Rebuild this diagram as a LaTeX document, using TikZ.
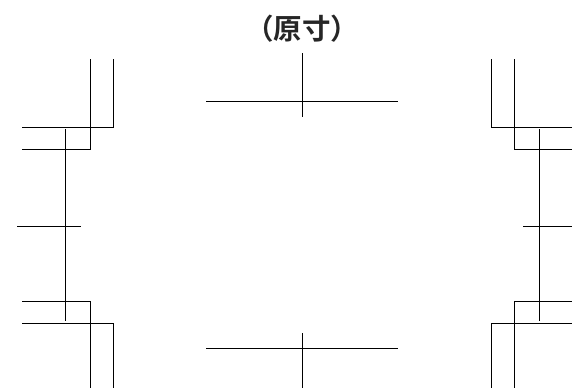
\documentclass[tikz,border=0pt]{standalone}
\usepackage{fontspec}
\newfontfamily\cjk{Noto Sans CJK SC}[BoldFont={Noto Sans CJK SC Bold}]
\tikzset{mark line/.style={draw=black,line width=0.9pt,line cap=butt,line join=miter}}
\begin{document}
\begin{tikzpicture}[x=1pt,y=-1pt]
\useasboundingbox (0,0) rectangle (572,389);
\node[text=black!85,font=\cjk\bfseries\fontsize{28.5}{30}\selectfont,inner sep=0pt,anchor=center] (title) at (302,29) {（原寸）};
% top and bottom centre marks
\draw[mark line] (206,101) -- (398,101);
\draw[mark line] (302,53) -- (302,117);
\draw[mark line] (206,348.5) -- (398,348.5);
\draw[mark line] (302,333) -- (302,388);
% top left
\draw[mark line] (90.5,59) -- (90.5,149.5) -- (22,149.5);
\draw[mark line] (113,59) -- (113,127) -- (22,127);
% left centre
\draw[mark line] (65,129) -- (65,321);
\draw[mark line] (17,226) -- (81,226);
% bottom left
\draw[mark line] (22,301) -- (90.5,301) -- (90.5,388);
\draw[mark line] (22,323.5) -- (113,323.5) -- (113,388);
% top right
\draw[mark line] (491,59) -- (491,127) -- (572,127);
\draw[mark line] (514,59) -- (514,149.5) -- (572,149.5);
% right centre
\draw[mark line] (539,129) -- (539,321);
\draw[mark line] (523,226) -- (572,226);
% bottom right
\draw[mark line] (572,301) -- (514,301) -- (514,388);
\draw[mark line] (572,323.5) -- (491,323.5) -- (491,388);
\end{tikzpicture}
\end{document}
